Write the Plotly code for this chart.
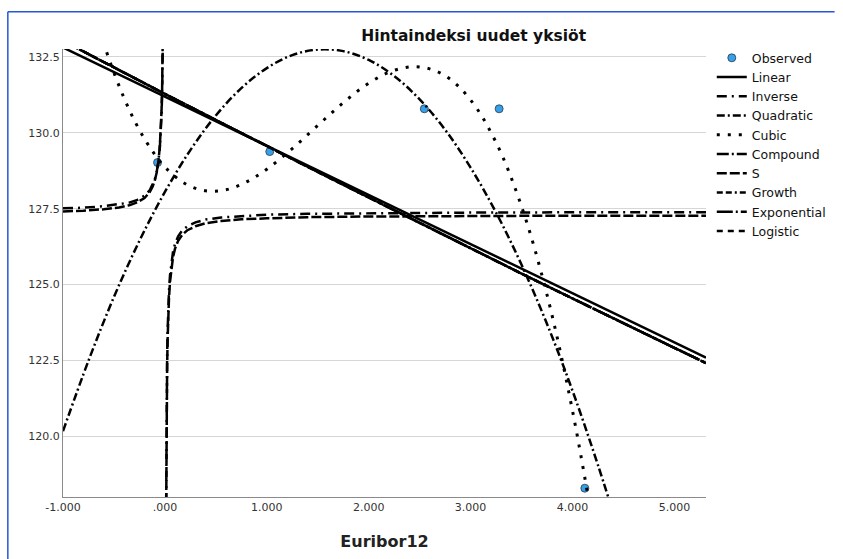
import plotly.graph_objects as go

obs_x = [-0.072, 1.029, 2.546, 3.280, 4.121]
obs_y = [129.02, 129.38, 130.79, 130.79, 118.29]

# Fitted curves
lin_x = [-1.0, 5.31]
lin_y = [132.81, 122.59]

exp_x = [-1, -0.5, 0, 0.5, 1, 1.5, 2, 2.5, 3, 3.5, 4, 4.5, 5, 5.31]
exp_y = [133.03, 132.15, 131.28, 130.42, 129.56, 128.71, 127.87, 127.03, 126.19, 125.36, 124.54, 123.72, 122.91, 122.41]

quad_x = [-1, -0.75, -0.5, -0.25, 0, 0.25, 0.5, 0.75, 1, 1.25, 1.5, 1.75, 2, 2.25, 2.5, 2.75, 3, 3.25, 3.5, 3.75, 4, 4.25, 4.5]
quad_y = [120.17, 122.49, 124.59, 126.44, 128.05, 129.43, 130.57, 131.47, 132.13, 132.56, 132.74, 132.69, 132.40, 131.87, 131.10, 130.10, 128.85, 127.37, 125.65, 123.70, 121.50, 119.05, 116.37]

cub_x = [-0.7, -0.6, -0.5, -0.4, -0.3, -0.2, -0.1, 0, 0.2, 0.4, 0.6, 0.8, 1, 1.25, 1.5, 1.75, 2, 2.25, 2.5, 2.75, 3, 3.25, 3.5, 3.75, 4, 4.25, 4.4]
cub_y = [134.04, 132.94, 131.98, 131.14, 130.41, 129.80, 129.29, 128.87, 128.32, 128.09, 128.12, 128.38, 128.80, 129.48, 130.24, 130.99, 131.63, 132.06, 132.17, 131.88, 131.08, 129.68, 127.57, 124.66, 120.84, 116.03, 112.62]

hyp_x_left = [-1, -0.8, -0.6, -0.45, -0.35, -0.27, -0.2, -0.15, -0.12, -0.1, -0.08, -0.065, -0.05, -0.04, -0.033, -0.027, -0.022, -0.018, -0.015]
hyp_x_right = [0.0095, 0.011, 0.0125, 0.015, 0.018, 0.022, 0.027, 0.033, 0.04, 0.05, 0.065, 0.08, 0.1, 0.13, 0.17, 0.22, 0.3, 0.4, 0.55, 0.75, 1, 1.4, 2, 3, 4, 5.31]
inv_y_left = [127.51, 127.53, 127.58, 127.64, 127.70, 127.79, 127.93, 128.10, 128.28, 128.45, 128.72, 129.02, 129.50, 130.03, 130.59, 131.29, 132.18, 133.24, 134.40]
inv_y_right = [116.35, 117.85, 119.00, 120.40, 121.57, 122.63, 123.51, 124.22, 124.78, 125.30, 125.79, 126.09, 126.35, 126.59, 126.78, 126.92, 127.05, 127.14, 127.21, 127.26, 127.30, 127.33, 127.35, 127.37, 127.38, 127.38]
s_y_left = [127.41, 127.43, 127.48, 127.54, 127.61, 127.71, 127.85, 128.04, 128.23, 128.42, 128.70, 129.02, 129.54, 130.11, 130.72, 131.49, 132.46, 133.64, 134.95]
s_y_right = [116.09, 117.55, 118.68, 120.08, 121.25, 122.33, 123.23, 123.96, 124.54, 125.09, 125.59, 125.91, 126.19, 126.44, 126.64, 126.79, 126.92, 127.02, 127.09, 127.15, 127.18, 127.22, 127.24, 127.26, 127.27, 127.27]

x_tick_vals = [-1, 0, 1, 2, 3, 4, 5]
x_tick_text = ["-1.000", ".000", "1.000", "2.000", "3.000", "4.000", "5.000"]
y_tick_vals = [120.0, 122.5, 125.0, 127.5, 130.0, 132.5]
y_tick_text = ["120.0", "122.5", "125.0", "127.5", "130.0", "132.5"]

FONT = "DejaVu Sans"
LW = 2.5
INK = "black"

hyp_x = hyp_x_left + [None] + hyp_x_right
inv_y = inv_y_left + [None] + inv_y_right
s_y = s_y_left + [None] + s_y_right

fig = go.Figure()
fig.add_trace(go.Scatter(x=obs_x, y=obs_y, mode="markers", name="Observed",
                         marker=dict(color="#36a0e8", size=8, line=dict(color="#2a3a4a", width=0.8))))
fig.add_trace(go.Scatter(x=lin_x, y=lin_y, mode="lines", name="Linear",
                         line=dict(color=INK, width=LW)))
fig.add_trace(go.Scatter(x=hyp_x, y=inv_y, mode="lines", name="Inverse",
                         line=dict(color=INK, width=LW, dash="10px,5px,2px,5px")))
fig.add_trace(go.Scatter(x=quad_x, y=quad_y, mode="lines", name="Quadratic", line_shape="spline",
                         line=dict(color=INK, width=LW, dash="8px,3px,2px,3px")))
fig.add_trace(go.Scatter(x=cub_x, y=cub_y, mode="lines", name="Cubic", line_shape="spline",
                         line=dict(color=INK, width=LW + 0.5, dash="3px,8px")))
fig.add_trace(go.Scatter(x=exp_x, y=exp_y, mode="lines", name="Compound",
                         line=dict(color=INK, width=LW, dash="12px,3px,2px,3px")))
fig.add_trace(go.Scatter(x=hyp_x, y=s_y, mode="lines", name="S",
                         line=dict(color=INK, width=LW, dash="10px,3px")))
fig.add_trace(go.Scatter(x=exp_x, y=exp_y, mode="lines", name="Growth",
                         line=dict(color=INK, width=LW, dash="6px,3px,6px,3px,2px,3px")))
fig.add_trace(go.Scatter(x=exp_x, y=exp_y, mode="lines", name="Exponential",
                         line=dict(color=INK, width=LW, dash="16px,3px,2px,3px")))
fig.add_trace(go.Scatter(x=exp_x, y=exp_y, mode="lines", name="Logistic",
                         line=dict(color=INK, width=LW, dash="6px,5px")))

fig.update_xaxes(range=[-1, 5.31], tickvals=x_tick_vals, ticktext=x_tick_text,
                 showgrid=False, zeroline=False, showline=True, linecolor="#8a8a8a", linewidth=1,
                 ticks="", tickfont=dict(family=FONT, size=11, color="#333"),
                 title=dict(text="<b>Euribor12</b>", font=dict(family=FONT, size=16, color="#222"), standoff=22))
fig.update_yaxes(range=[118.0, 132.76], tickvals=y_tick_vals, ticktext=y_tick_text,
                 showgrid=True, gridcolor="#d6d6d6", gridwidth=1, zeroline=False,
                 showline=True, linecolor="#8a8a8a", linewidth=1, ticks="",
                 tickfont=dict(family=FONT, size=11, color="#333"))

fig.update_layout(
    width=843, height=559,
    margin=dict(l=63, r=127, t=49, b=60),
    paper_bgcolor="white", plot_bgcolor="white",
    font=dict(family=FONT, color="#222"),
    title=dict(text="<b>Hintaindeksi uudet yksiöt</b>", x=0.6386, xref="paper", xanchor="center",
               y=1 - 36 / 559, yref="container", yanchor="middle",
               font=dict(family=FONT, size=15.5, color="#111")),
    legend=dict(x=1.009, y=1.013, xanchor="left", yanchor="top", font=dict(family=FONT, size=12.5, color="#111"),
                bgcolor="rgba(0,0,0,0)", tracegroupgap=0, itemwidth=30),
    shapes=[
        dict(type="line", xref="paper", yref="paper", x0=-0.0858, x1=1.2, y0=1.0833, y1=1.0833,
             line=dict(color="#2456d8", width=1.5)),
        dict(type="line", xref="paper", yref="paper", x0=-0.0858, x1=-0.0858, y0=-0.14, y1=1.0833,
             line=dict(color="#2456d8", width=1.5)),
    ],
)

fig.write_html("out.html")
